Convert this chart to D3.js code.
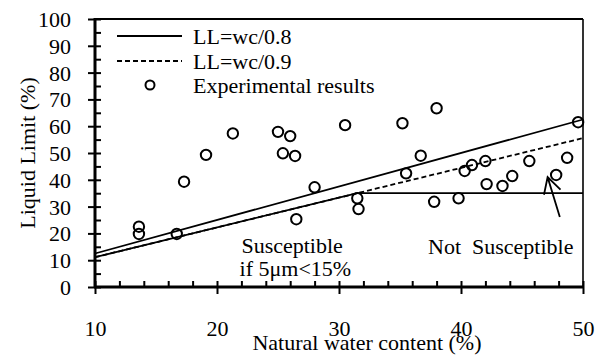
<!DOCTYPE html>
<html>
<head>
<meta charset="utf-8">
<script src="https://cdn.jsdelivr.net/npm/d3@7"></script>
<style>
  body { margin: 0; background: #fff; }
  svg text { font-family: "Liberation Serif", "Times New Roman", serif; fill: #000; }
</style>
</head>
<body>
<div id="wrapper"></div>
<script>
// data
const wcValues = [13.6, 13.6, 16.7, 17.3, 19.1, 21.3, 25.0, 26.0, 25.4, 26.4, 28.0, 26.5, 30.5,
                  35.2, 38.0, 36.7, 35.5, 31.5, 31.6, 37.8, 39.8, 40.3, 40.9, 42.0, 42.1, 43.4,
                  44.2, 45.6, 48.7, 47.8, 49.6]
const llValues = [22.5, 19.8, 19.8, 39.3, 49.3, 57.3, 57.9, 56.3, 49.9, 48.9, 37.2, 25.3, 60.4,
                  61.1, 66.7, 49.0, 42.4, 33.1, 29.1, 31.8, 33.1, 43.3, 45.5, 47.0, 38.4, 37.7,
                  41.4, 47.0, 48.2, 41.8, 61.5]
const lineWc = [10, 50]
const xMajor = [10, 20, 30, 40, 50]
const xMinor = d3.range(10, 50.01, 2)
const yMajor = [0, 10, 20, 30, 40, 50, 60, 70, 80, 90, 100]
const yMinor = d3.range(0, 100.01, 5)
const legendLabels = ['LL=wc/0.8', 'LL=wc/0.9', 'Experimental results']
const limitLL = 35
const arrowFrom = [48.1, 26.1]
const arrowTo = [47.1, 41.0]

const dataset = wcValues.map((wc, i) => ({ wc: wc, ll: llValues[i] }))

// dimensions
let dimensions = {
    width: 606,
    height: 358,
    margin: { top: 19, right: 23, bottom: 71, left: 95 }
}
dimensions.boundedWidth = dimensions.width - dimensions.margin.left - dimensions.margin.right
dimensions.boundedHeight = dimensions.height - dimensions.margin.top - dimensions.margin.bottom

const wrapper = d3.select('#wrapper')
    .append('svg')
        .attr('width', dimensions.width)
        .attr('height', dimensions.height)

wrapper.append('rect')
    .attr('width', dimensions.width)
    .attr('height', dimensions.height)
    .attr('fill', '#fff')

const bounds = wrapper.append('g')
    .attr('transform', `translate(${dimensions.margin.left},${dimensions.margin.top})`)

// scales
const xScale = d3.scaleLinear()
    .domain([10, 50])
    .range([0, dimensions.boundedWidth])
const yScale = d3.scaleLinear()
    .domain([0, 100])
    .range([dimensions.boundedHeight, 0])

// frame (top and right)
bounds.append('line')
    .attr('x1', 0).attr('x2', dimensions.boundedWidth)
    .attr('y1', 0).attr('y2', 0)
    .attr('stroke', '#000').attr('stroke-width', 2.2)
bounds.append('line')
    .attr('x1', dimensions.boundedWidth).attr('x2', dimensions.boundedWidth)
    .attr('y1', 0).attr('y2', dimensions.boundedHeight)
    .attr('stroke', '#000').attr('stroke-width', 1.6)

// lines
const line = d3.line().x(d => xScale(d[0])).y(d => yScale(d[1]))

bounds.append('path')
    .datum(lineWc.map(w => [w, w / 0.8]))
    .attr('d', line)
    .attr('fill', 'none').attr('stroke', '#000').attr('stroke-width', 1.8)

bounds.append('path')
    .datum(lineWc.map(w => [w, w / 0.9]))
    .attr('d', line)
    .attr('fill', 'none').attr('stroke', '#000').attr('stroke-width', 1.8)
    .attr('stroke-dasharray', '5,3')

// boundary: wc/0.9 up to LL=35, then flat
const wcBreak = limitLL * 0.9
bounds.append('path')
    .datum([[10, 10 / 0.9], [wcBreak, limitLL], [50, limitLL]])
    .attr('d', line)
    .attr('fill', 'none').attr('stroke', '#000').attr('stroke-width', 1.8)

// points
bounds.selectAll('circle.dot')
    .data(dataset)
    .enter().append('circle')
        .attr('class', 'dot')
        .attr('cx', d => xScale(d.wc))
        .attr('cy', d => yScale(d.ll))
        .attr('r', 5.2)
        .attr('fill', 'none')
        .attr('stroke', '#000')
        .attr('stroke-width', 2)

// arrow
const ax1 = xScale(arrowFrom[0]), ay1 = yScale(arrowFrom[1])
const ax2 = xScale(arrowTo[0]), ay2 = yScale(arrowTo[1])
const ang = Math.atan2(ay2 - ay1, ax2 - ax1)
const headLen = 18, headAng = 0.5
bounds.append('path')
    .attr('d', `M${ax1},${ay1}L${ax2},${ay2}` +
        `M${ax2 - headLen * Math.cos(ang - headAng)},${ay2 - headLen * Math.sin(ang - headAng)}L${ax2},${ay2}` +
        `L${ax2 - headLen * Math.cos(ang + headAng)},${ay2 - headLen * Math.sin(ang + headAng)}`)
    .attr('fill', 'none').attr('stroke', '#000').attr('stroke-width', 1.8)

// annotations
bounds.append('text')
    .attr('x', xScale(22.0)).attr('y', yScale(12.8))
    .style('font-size', '22px')
    .text('Susceptible')
bounds.append('text')
    .attr('x', xScale(21.85)).attr('y', yScale(4.2))
    .style('font-size', '22px')
    .text('if 5μm<15%')
bounds.append('text')
    .attr('x', xScale(37.3)).attr('y', yScale(12.4))
    .style('font-size', '22px')
    .style('white-space', 'pre')
    .text('Not  Susceptible')

// axes
const xAxis = bounds.append('g')
    .attr('transform', `translate(0,${dimensions.boundedHeight})`)
xAxis.call(d3.axisBottom(xScale).tickValues(xMajor).tickSize(7).tickSizeOuter(0).tickFormat(d3.format('d')))
xAxis.call(g => g.selectAll('.tick line').attr('stroke-width', 2))
xAxis.call(g => g.selectAll('.tick text')
    .style('font-size', '22px')
    .attr('y', 0).attr('dy', '49px'))
xAxis.call(g => g.select('.domain').remove())
xAxis.append('g')
    .call(d3.axisTop(xScale).tickValues(xMinor).tickSize(6).tickSizeOuter(0).tickFormat(''))
    .call(g => g.selectAll('.tick line').attr('stroke-width', 2))
    .call(g => g.select('.domain').remove())
xAxis.append('line')
    .attr('x1', -1).attr('x2', dimensions.boundedWidth + 1)
    .attr('stroke', '#000').attr('stroke-width', 3)

const yAxis = bounds.append('g')
yAxis.call(d3.axisLeft(yScale).tickValues(yMajor).tickSize(7).tickSizeOuter(0))
yAxis.call(g => g.selectAll('.tick line').attr('stroke-width', 2))
yAxis.call(g => g.selectAll('.tick text')
    .style('font-size', '22px')
    .attr('x', -24).attr('dy', '0.34em'))
yAxis.call(g => g.select('.domain').remove())
yAxis.append('g')
    .call(d3.axisRight(yScale).tickValues(yMinor).tickSize(6).tickSizeOuter(0).tickFormat(''))
    .call(g => g.selectAll('.tick line').attr('stroke-width', 2))
    .call(g => g.select('.domain').remove())
yAxis.append('line')
    .attr('y1', -1).attr('y2', dimensions.boundedHeight + 1)
    .attr('stroke', '#000').attr('stroke-width', 3)

// axis titles
wrapper.append('text')
    .attr('x', 367).attr('y', 350)
    .attr('text-anchor', 'middle')
    .style('font-size', '22px')
    .text('Natural water content (%)')

wrapper.append('text')
    .attr('transform', `translate(35,${dimensions.margin.top + dimensions.boundedHeight / 2}) rotate(-90)`)
    .attr('text-anchor', 'middle')
    .style('font-size', '22px')
    .text('Liquid Limit  (%)')

// legend
const legend = wrapper.append('g')
const legendY = [36, 61, 85]
legend.append('line')
    .attr('x1', 117).attr('x2', 182).attr('y1', legendY[0]).attr('y2', legendY[0])
    .attr('stroke', '#000').attr('stroke-width', 1.8)
legend.append('line')
    .attr('x1', 117).attr('x2', 182).attr('y1', legendY[1]).attr('y2', legendY[1])
    .attr('stroke', '#000').attr('stroke-width', 1.8).attr('stroke-dasharray', '5,3')
legend.append('circle')
    .attr('cx', 150).attr('cy', legendY[2]).attr('r', 4.5)
    .attr('fill', 'none').attr('stroke', '#000').attr('stroke-width', 2)
legend.selectAll('text')
    .data(legendLabels)
    .enter().append('text')
        .attr('x', 193)
        .attr('y', (d, i) => legendY[i] + 8)
        .style('font-size', '22px')
        .text(d => d)
</script>
</body>
</html>
